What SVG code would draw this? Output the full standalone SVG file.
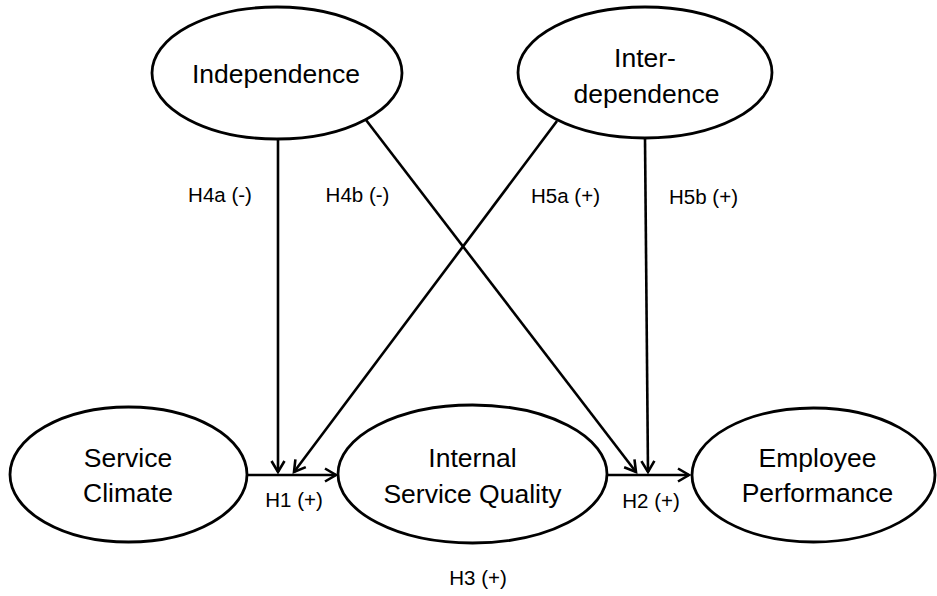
<svg xmlns="http://www.w3.org/2000/svg" width="937" height="596" viewBox="0 0 937 596">
<style>
.node ellipse{fill:#fff;stroke:#000;stroke-width:2.8}
.node text{font-family:"Liberation Sans",Arial,sans-serif;font-size:26.5px;fill:#000;text-anchor:middle}
.edge{stroke:#000;stroke-width:2.6;fill:none}
.lbl{font-family:"Liberation Sans",Arial,sans-serif;font-size:20.5px;fill:#000;text-anchor:middle}
</style>
<defs>
<marker id="arr" markerUnits="userSpaceOnUse" markerWidth="16" markerHeight="18" viewBox="-13 -9 16 18" refX="0" refY="0" orient="auto">
<path d="M-11,-6.5 L0,0 L-11,6.5" fill="none" stroke="#000" stroke-width="2.6" stroke-linejoin="miter"/>
</marker>
</defs>
<rect width="937" height="596" fill="#fff"/>
<g id="connectors">
<line class="edge" x1="247" y1="475" x2="336" y2="475" marker-end="url(#arr)"/>
<line class="edge" x1="607" y1="475" x2="689" y2="475" marker-end="url(#arr)"/>
<line class="edge" x1="278" y1="139" x2="278" y2="472" marker-end="url(#arr)"/>
<line class="edge" x1="366" y1="120" x2="636" y2="472" marker-end="url(#arr)"/>
<line class="edge" x1="557" y1="121" x2="294" y2="472" marker-end="url(#arr)"/>
<line class="edge" x1="645" y1="138" x2="648" y2="472" marker-end="url(#arr)"/>
</g>
<g id="node-independence" class="node">
<ellipse cx="277" cy="73" rx="125" ry="66"/>
<text x="276" y="83">Independence</text>
</g>
<g id="node-interdependence" class="node">
<ellipse cx="645" cy="72.5" rx="127" ry="65.5"/>
<text x="645" y="67">Inter-</text>
<text x="646.5" y="103">dependence</text>
</g>
<g id="node-service-climate" class="node">
<ellipse cx="128.5" cy="474.5" rx="118.5" ry="67.5"/>
<text x="128" y="467">Service</text>
<text x="128" y="502">Climate</text>
</g>
<g id="node-isq" class="node">
<ellipse cx="472.5" cy="474" rx="134.5" ry="69"/>
<text x="472.5" y="467">Internal</text>
<text x="472.5" y="503">Service Quality</text>
</g>
<g id="node-employee-performance" class="node">
<ellipse cx="813.5" cy="475" rx="121.5" ry="67"/>
<text x="817.5" y="467">Employee</text>
<text x="817.5" y="502">Performance</text>
</g>
<g id="labels">
<text class="lbl" x="220" y="202">H4a (-)</text>
<text class="lbl" x="357.5" y="202">H4b (-)</text>
<text class="lbl" x="565.5" y="203">H5a (+)</text>
<text class="lbl" x="703.5" y="204">H5b (+)</text>
<text class="lbl" x="294" y="507">H1 (+)</text>
<text class="lbl" x="651" y="508">H2 (+)</text>
<text class="lbl" x="478" y="585">H3 (+)</text>
</g>
</svg>
